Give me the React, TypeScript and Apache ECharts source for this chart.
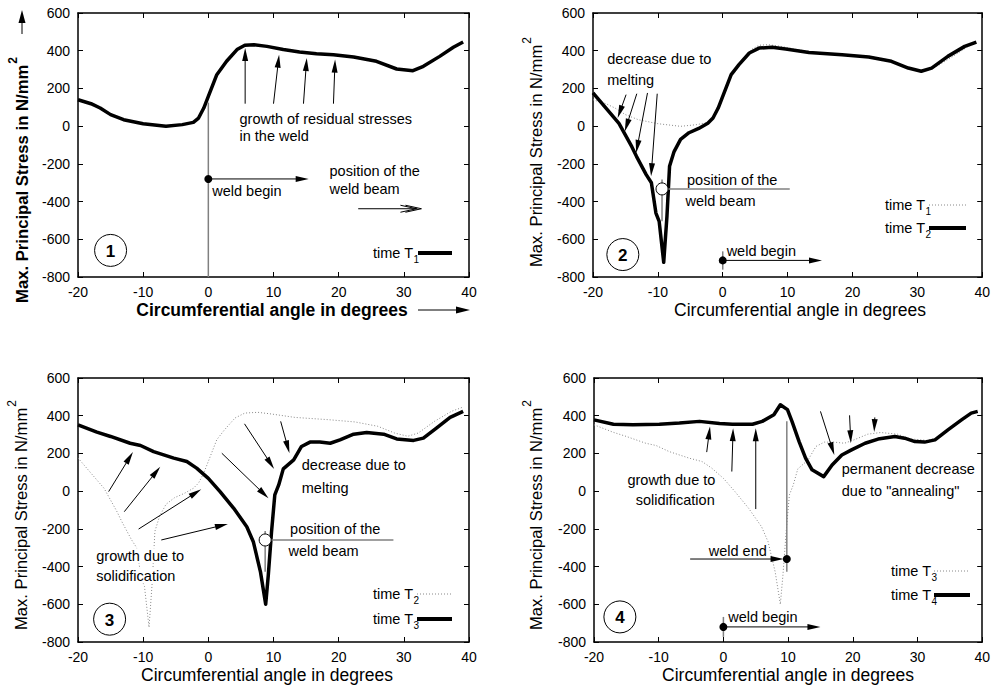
import React, { useEffect, useRef } from 'react';
import * as echarts from 'echarts';

const FONT = '"Liberation Sans", Arial, Helvetica, sans-serif';

// axes
const X_MIN = -20, X_MAX = 40, X_STEP = 10;
const Y_MIN = -800, Y_MAX = 600, Y_STEP = 200;

// time T1
const T1_ANGLE = [-20, -18, -16.6, -15, -13, -10, -6.5, -4, -2.3, -1.5, -0.7, 0, 1.3, 2.8, 4.4, 5.6, 7, 9, 11.5, 14, 16.6, 19.2, 22.3, 25.8, 28.9, 31.4, 33, 35.5, 37.6, 39.1];
const T1_STRESS = [140, 119, 96, 61, 34, 13, -1, 8, 20, 43, 96, 158, 273, 344, 406, 429, 432, 423, 406, 393, 384, 379, 367, 344, 303, 294, 317, 370, 418, 446];

// time T2
const T2_ANGLE = [-20, -18, -16, -14, -13.3, -11.8, -11, -10.3, -9.8, -9.1, -8.6, -8.2, -7.5, -6.5, -5.2, -3.7, -2.3, -1.5, -0.7, 0, 1.3, 2.5, 4.1, 5.6, 7.6, 9.7, 13.3, 18.4, 22.5, 26, 28.6, 30.6, 32.2, 34.7, 37.3, 39.1];
const T2_STRESS = [176, 95, 15, -110, -160, -257, -300, -461, -505, -722, -478, -213, -135, -70, -35, -12, 15, 43, 96, 158, 273, 326, 388, 414, 418, 409, 391, 379, 367, 344, 308, 291, 308, 370, 423, 446];

// time T3
const T3_ANGLE = [-20, -17.1, -15, -12, -10.4, -8.4, -5.3, -3.3, -1.8, 0, 1.8, 3.9, 5.9, 6.9, 8, 8.8, 9.2, 9.7, 10.2, 10.8, 11.5, 13.1, 14.3, 15.6, 17.1, 18.7, 20.2, 22.3, 24.3, 26.9, 28.9, 31.5, 33, 35, 37.1, 39.1];
const T3_STRESS = [352, 313, 290, 254, 242, 210, 175, 157, 122, 68, -3, -91, -189, -268, -428, -600, -446, -215, -20, 33, 118, 166, 237, 260, 260, 254, 272, 302, 311, 302, 277, 269, 281, 334, 391, 423];

// time T4
const T4_ANGLE = [-20, -17, -14, -9.9, -6.8, -3.7, -0.6, 1.4, 4.5, 6, 7.8, 8.8, 9.9, 10.6, 11.7, 12.7, 13.7, 15.5, 16.8, 18.3, 19.8, 21.9, 23.9, 26.5, 28, 29.6, 31.1, 32.7, 34.7, 36.8, 38.3, 39.3];
const T4_STRESS = [378, 355, 352, 355, 361, 370, 359, 355, 355, 370, 405, 458, 432, 370, 263, 175, 113, 77, 139, 192, 219, 254, 276, 290, 281, 263, 260, 272, 325, 378, 414, 423];

const GRIDS = [
  { left: 78, top: 13, width: 391, height: 264 },
  { left: 593, top: 13, width: 391, height: 264 },
  { left: 78, top: 378, width: 391, height: 264 },
  { left: 594, top: 378, width: 390, height: 264 },
];

const Y_TITLE = 'Max. Principal Stress in N/mm';
const X_TITLE = 'Circumferential angle in degrees';
const ANN = 14.5;

export default function App() {
  const ref = useRef<HTMLDivElement>(null);
  useEffect(() => {
    document.body.style.margin = '0';
    const chart = echarts.init(ref.current!, undefined, { renderer: 'svg' });
    const pairs = (a: number[], b: number[]) => a.map((x, i) => [x, b[i]]);

    const axisLine = { show: true, onZero: false, lineStyle: { color: '#000', width: 1.5 } };
    const tick = { show: true, inside: true, length: 5, lineStyle: { color: '#000', width: 1 } };
    const lbl = { show: true, color: '#000', fontSize: 14, fontFamily: FONT, margin: 8 };
    const xAxes: any[] = [];
    const yAxes: any[] = [];
    GRIDS.forEach((_, g) => {
      xAxes.push({ type: 'value', gridIndex: g, min: X_MIN, max: X_MAX, interval: X_STEP, position: 'bottom', axisLine, axisTick: tick, axisLabel: lbl, splitLine: { show: false } });
      yAxes.push({ type: 'value', gridIndex: g, min: Y_MIN, max: Y_MAX, interval: Y_STEP, position: 'left', axisLine, axisTick: tick, axisLabel: lbl, splitLine: { show: false } });
    });
    GRIDS.forEach((_, g) => {
      xAxes.push({ type: 'value', gridIndex: g, min: X_MIN, max: X_MAX, interval: X_STEP, position: 'top', axisLine, axisTick: tick, axisLabel: { show: false }, splitLine: { show: false } });
      yAxes.push({ type: 'value', gridIndex: g, min: Y_MIN, max: Y_MAX, interval: Y_STEP, position: 'right', axisLine, axisTick: tick, axisLabel: { show: false }, splitLine: { show: false } });
    });

    const thick = (g: number, a: number[], b: number[], name: string) => ({
      type: 'line', name, xAxisIndex: g, yAxisIndex: g, data: pairs(a, b), showSymbol: false, symbol: 'none', z: 4,
      lineStyle: { color: '#000', width: 3.5, join: 'round' },
    });
    const dotted = (g: number, a: number[], b: number[], name: string) => ({
      type: 'line', name, xAxisIndex: g, yAxisIndex: g, data: pairs(a, b), showSymbol: false, symbol: 'none', z: 3,
      lineStyle: { color: '#888', width: 1, type: [1, 2] },
    });

    chart.setOption({
      animation: false,
      backgroundColor: '#fff',
      grid: GRIDS.map((g) => ({ ...g, containLabel: false })),
      xAxis: xAxes,
      yAxis: yAxes,
      series: [
        thick(0, T1_ANGLE, T1_STRESS, 'time T1'),
        dotted(1, T1_ANGLE, T1_STRESS, 'time T1'),
        thick(1, T2_ANGLE, T2_STRESS, 'time T2'),
        dotted(2, T2_ANGLE, T2_STRESS, 'time T2'),
        thick(2, T3_ANGLE, T3_STRESS, 'time T3'),
        dotted(3, T3_ANGLE, T3_STRESS, 'time T3'),
        thick(3, T4_ANGLE, T4_STRESS, 'time T4'),
      ],
    });

    const ctx = document.createElement('canvas').getContext('2d')!;
    const measure = (s: string, size: number, weight = 'normal') => {
      ctx.font = `${weight} ${size}px ${FONT}`;
      return ctx.measureText(s).width;
    };
    const P = (g: number, x: number, y: number) => chart.convertToPixel({ xAxisIndex: g, yAxisIndex: g } as any, [x, y]) as number[];
    const els: any[] = [];
    const Z = 50;
    const GRAY = '#808080';
    const lineP = (x1: number, y1: number, x2: number, y2: number, color = '#000', w = 1, dash?: number[]) =>
      els.push({ type: 'line', z: Z, shape: { x1, y1, x2, y2 }, style: { stroke: color, lineWidth: w, lineDash: dash } });
    const lineD = (g: number, x1: number, y1: number, x2: number, y2: number, color = '#000', w = 1) => {
      const a = P(g, x1, y1), b = P(g, x2, y2);
      lineP(a[0], a[1], b[0], b[1], color, w);
    };
    const arrowP = (ax: number, ay: number, bx: number, by: number, head = 13, hw = 3) => {
      const dx = bx - ax, dy = by - ay;
      const L = Math.hypot(dx, dy);
      const ux = dx / L, uy = dy / L;
      const cx = bx - ux * head, cy = by - uy * head;
      const nx = -uy, ny = ux;
      els.push({ type: 'line', z: Z, shape: { x1: ax, y1: ay, x2: cx + ux * 2, y2: cy + uy * 2 }, style: { stroke: '#000', lineWidth: 1 } });
      els.push({ type: 'polygon', z: Z, shape: { points: [[bx, by], [cx + nx * hw, cy + ny * hw], [cx - nx * hw, cy - ny * hw]] }, style: { fill: '#000' } });
    };
    const arrowD = (g: number, x1: number, y1: number, x2: number, y2: number) => {
      const a = P(g, x1, y1), b = P(g, x2, y2);
      arrowP(a[0], a[1], b[0], b[1]);
    };
    const textP = (x: number, y: number, s: string, o: any = {}) =>
      els.push({
        type: 'text', z: Z + 2, x, y,
        style: {
          text: s, fill: '#000', fontSize: o.size ?? ANN, fontFamily: FONT, fontWeight: o.weight ?? 'normal',
          align: o.align ?? 'left', textAlign: o.align ?? 'left', verticalAlign: o.va ?? 'middle', textVerticalAlign: o.va ?? 'middle',
          backgroundColor: o.bg, padding: o.bg ? [0, 2, 0, 2] : undefined,
        },
      });
    const textD = (g: number, x: number, y: number, s: string, o: any = {}) => {
      const p = P(g, x, y);
      textP(p[0], p[1], s, o);
    };
    const dotD = (g: number, x: number, y: number, r = 4) => {
      const p = P(g, x, y);
      els.push({ type: 'circle', z: Z + 1, shape: { cx: p[0], cy: p[1], r }, style: { fill: '#000' } });
    };
    const openD = (g: number, x: number, y: number, r = 6) => {
      const p = P(g, x, y);
      els.push({ type: 'circle', z: Z + 1, shape: { cx: p[0], cy: p[1], r }, style: { fill: '#fff', stroke: '#000', lineWidth: 1 } });
    };
    const numCircle = (g: number, x: number, y: number, s: string) => {
      const p = P(g, x, y);
      els.push({ type: 'circle', z: Z, shape: { cx: p[0], cy: p[1], r: 16 }, style: { fill: '#fff', stroke: '#000', lineWidth: 1 } });
      textP(p[0], p[1] + 1, s, { size: 17, weight: 'bold', align: 'center' });
    };
    const yTitle = (cx: number, y0: number, bold: boolean) => {
      const size = bold ? 16.7 : 16.6;
      const w = measure(Y_TITLE, size, bold ? 'bold' : 'normal');
      els.push({
        type: 'group', x: cx, y: y0, rotation: Math.PI / 2,
        children: [
          { type: 'text', z: Z, x: 0, y: 0, style: { text: Y_TITLE, fill: '#000', fontSize: size, fontFamily: FONT, fontWeight: bold ? 'bold' : 'normal', align: 'left', textAlign: 'left', verticalAlign: 'middle', textVerticalAlign: 'middle' } },
          { type: 'text', z: Z, x: w + 1, y: -9, style: { text: '2', fill: '#000', fontSize: 12, fontFamily: FONT, fontWeight: bold ? 'bold' : 'normal', align: 'left', textAlign: 'left', verticalAlign: 'middle', textVerticalAlign: 'middle' } },
        ],
      });
    };
    const legend = (textEnd: number, y: number, sub: string, x1: number, x2: number, isThick: boolean) => {
      textP(textEnd, y, 'time T', { align: 'right' });
      textP(textEnd + 0.5, y + 6, sub, { size: 10 });
      if (isThick) lineP(x1, y, x2, y, '#000', 4);
      else lineP(x1, y, x2, y, '#888', 1, [1, 2]);
    };

    // ---------- panel 1 ----------
    lineD(0, 0, 125, 0, -800, GRAY, 1.5);
    arrowD(0, 0, -280, 15.4, -280);
    dotD(0, 0, -280);
    textD(0, 0.6, -346, 'weld begin');
    textD(0, 4.78, 38, 'growth of residual stresses');
    textD(0, 4.78, -50, 'in the weld');
    arrowD(0, 5.65, 119, 5.65, 414);
    arrowD(0, 10, 119, 10.86, 379);
    arrowD(0, 14.6, 119, 15.1, 361);
    arrowD(0, 19.2, 119, 19.45, 353);
    textD(0, 18.6, -240, 'position of the');
    textD(0, 18.6, -333, 'weld beam');
    {
      const a = P(0, 23.0, -438), b = P(0, 32.7, -438);
      lineP(a[0], a[1], b[0] - 4, b[1]);
      lineP(b[0] - 16, b[1] - 3.5, b[0], b[1]);
      lineP(b[0] - 16, b[1] + 3.5, b[0], b[1]);
      lineP(b[0] - 21, b[1] - 3.5, b[0] - 5, b[1]);
      lineP(b[0] - 21, b[1] + 3.5, b[0] - 5, b[1]);
    }
    numCircle(0, -15, -659, '1');
    legend(413, 253, '1', 418, 452, true);
    yTitle(22, 303, true);
    arrowP(22, 34, 22, 10, 13, 3.5);
    textP(272, 310, X_TITLE, { size: 17.5, weight: 'bold', align: 'center' });
    arrowP(418, 310, 470, 310, 14, 3.5);

    // ---------- panel 2 ----------
    textD(1, -17.8, 356, 'decrease due to');
    textD(1, -17.8, 246, 'melting');
    arrowD(1, -14.9, 167, -16.2, 43);
    arrowD(1, -13.25, 172, -15.1, -28);
    arrowD(1, -11.6, 176, -13.35, -142);
    arrowD(1, -10.1, 172, -11.05, -266);
    lineD(1, -9.36, -283, -9.36, -505, GRAY, 1.5);
    lineD(1, -9.36, -333, 10.33, -333, GRAY, 1.5);
    openD(1, -9.36, -333);
    textD(1, -5.5, -284, 'position of the');
    textD(1, -5.75, -399, 'weld beam');
    lineD(1, 0, -664, 0, -761, GRAY, 1.5);
    arrowD(1, 0, -712, 15.3, -712);
    dotD(1, 0, -712);
    textD(1, 0.6, -664, 'weld begin');
    numCircle(1, -15.4, -681, '2');
    legend(925, 205, '1', 929, 966, false);
    legend(925, 228, '2', 929, 966, true);
    yTitle(536, 267, false);
    textP(800, 310, X_TITLE, { size: 17.5, align: 'center' });

    // ---------- panel 3 ----------
    arrowD(2, -15.3, -2.5, -11.57, 207);
    arrowD(2, -12.9, -109, -7.38, 129);
    arrowD(2, -10.7, -201, -1.09, 10);
    arrowD(2, -7.22, -259, 3.0, -174);
    arrowD(2, 5.55, 357, 10.1, 118);
    arrowD(2, 11.1, 370, 12.45, 201);
    arrowD(2, 2.07, 201, 9.23, -38);
    textD(2, 14.34, 139, 'decrease due to');
    textD(2, 14.34, 19, 'melting');
    lineD(2, 8.72, -212, 8.72, -428, GRAY, 1.5);
    lineD(2, 8.72, -259, 28.4, -259, GRAY, 1.5);
    openD(2, 8.72, -259);
    textD(2, 12.55, -203, 'position of the');
    textD(2, 12.3, -318, 'weld beam');
    textD(2, -17.5, -343, 'growth due to', { bg: '#fff' });
    textD(2, -17.5, -449, 'solidification', { bg: '#fff' });
    numCircle(2, -15.15, -679, '3');
    legend(413, 594, '2', 417, 452, false);
    legend(413, 619, '3', 417, 452, true);
    yTitle(21, 630, false);
    textP(267, 675, X_TITLE, { size: 17.5, align: 'center' });

    // ---------- panel 4 ----------
    arrowD(3, -2.58, 207, -2.07, 343);
    arrowD(3, 1.3, 104, 1.5, 334);
    arrowD(3, 5.0, -95, 5.0, 334);
    arrowD(3, 15.0, 423, 17.14, 192);
    arrowD(3, 19.5, 402, 19.7, 254);
    arrowD(3, 23.4, 391, 23.3, 313);
    textD(3, -14.83, 60, 'growth due to');
    textD(3, -13.55, -47, 'solidification');
    textD(3, 18.3, 118, 'permanent decrease');
    textD(3, 18.3, 1, 'due to "annealing"');
    lineD(3, 9.8, 370, 9.8, -428, GRAY, 1.5);
    textD(3, -2.27, -318, 'weld end');
    arrowD(3, -5.14, -360, 9.3, -360);
    dotD(3, 9.8, -360);
    lineD(3, 0, -667, 0, -773, GRAY, 1.5);
    arrowD(3, 0, -720, 15.0, -720);
    dotD(3, 0, -720);
    textD(3, 0.75, -667, 'weld begin');
    numCircle(3, -16.0, -667, '4');
    legend(931, 571, '3', 934, 970, false);
    legend(931, 595, '4', 934, 970, true);
    yTitle(536, 630, false);
    textP(788, 675, X_TITLE, { size: 17.5, align: 'center' });

    chart.setOption({ graphic: { elements: els } });
    return () => chart.dispose();
  }, []);
  return <div ref={ref} style={{ position: 'absolute', left: 0, top: 0, width: 993, height: 691, background: '#fff' }} />;
}
